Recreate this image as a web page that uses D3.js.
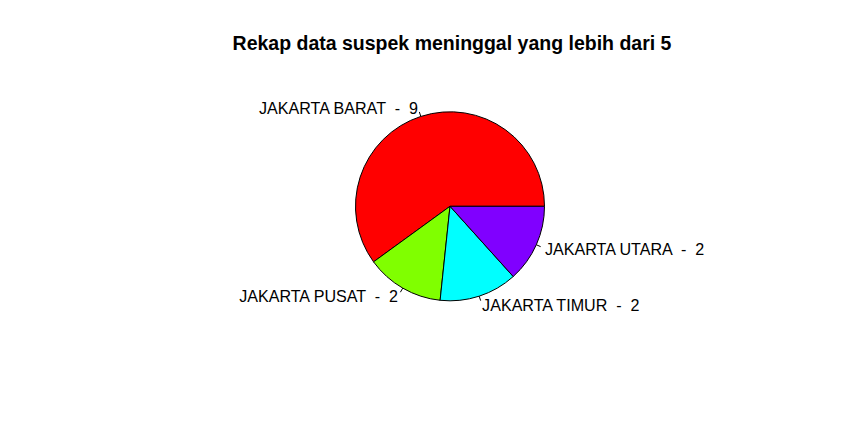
<!DOCTYPE html>
<html><head><meta charset="utf-8">
<script src="https://cdn.jsdelivr.net/npm/d3@7"></script>
<style>body{margin:0;background:#fff}svg{display:block}text{font-family:"Liberation Sans",Arial,sans-serif;white-space:pre}</style>
</head><body><div id="chart"></div>
<script>
const categories = ["JAKARTA BARAT", "JAKARTA PUSAT", "JAKARTA TIMUR", "JAKARTA UTARA"];
const values = [9, 2, 2, 2];
const colors = ["#FF0000", "#80FF00", "#00FFFF", "#8000FF"];
const title = "Rekap data suspek meninggal yang lebih dari 5";

const W = 862, H = 433, cx = 450, cy = 206.3, r = 94.5;
const svg = d3.select("#chart").append("svg").attr("width", W).attr("height", H);

svg.append("text").attr("x", 452).attr("y", 50).attr("text-anchor", "middle")
  .style("font-weight", "bold").style("font-size", "19.5px").text(title);

const pie = d3.pie().sort(null).startAngle(Math.PI / 2).endAngle(Math.PI / 2 - 2 * Math.PI);
const arcs = pie(values);
const arc = d3.arc().innerRadius(0).outerRadius(r);
const g = svg.append("g").attr("transform", `translate(${cx},${cy})`);

g.selectAll("path").data(arcs).join("path")
  .attr("d", arc).attr("fill", (d, i) => colors[i])
  .attr("stroke", "#000").attr("stroke-width", 1);

arcs.forEach((d, i) => {
  const a = (d.startAngle + d.endAngle) / 2;
  const sx = Math.sin(a), sy = -Math.cos(a);
  g.append("line").attr("x1", sx * r).attr("y1", sy * r)
    .attr("x2", sx * r * 1.05).attr("y2", sy * r * 1.05)
    .attr("stroke", "#000").attr("stroke-width", 1);
  g.append("text").attr("x", sx * r * 1.1).attr("y", sy * r * 1.1)
    .attr("dy", "0.38em")
    .attr("text-anchor", sx > 0 ? "start" : "end")
    .style("font-size", "16.1px")
    .text(categories[i] + "  -  " + values[i]);
});
</script></body></html>
